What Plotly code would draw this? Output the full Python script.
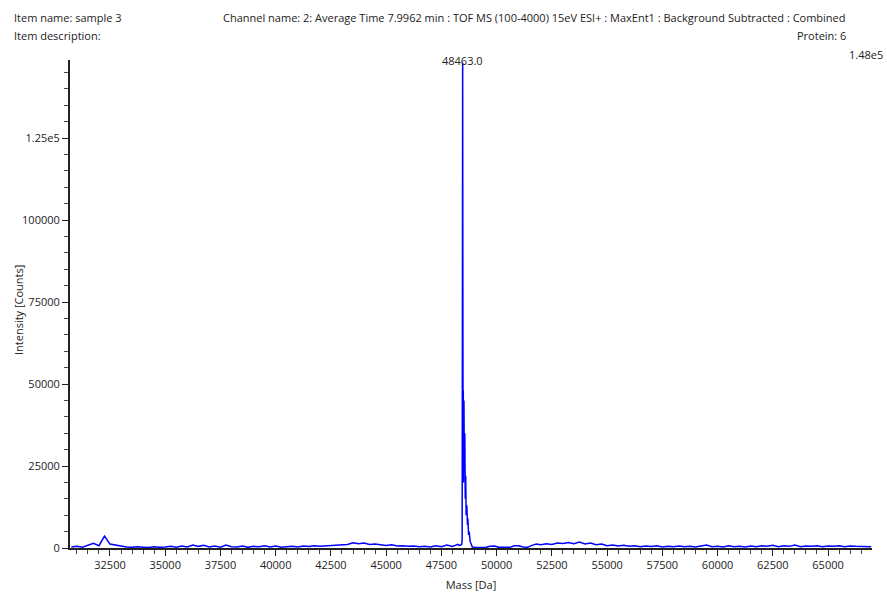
import plotly.graph_objects as go

# ---- data ----
mass_pre = [30750, 31000, 31250, 31500, 31750, 32000, 32250, 32500, 32750, 33000,
            33250, 33500, 33750, 34000, 34250, 34500, 34750, 35000, 35250, 35500,
            35750, 36000, 36250, 36500, 36750, 37000, 37250, 37500, 37750, 38000,
            38250, 38500, 38750, 39000, 39250, 39500, 39750, 40000, 40250, 40500,
            40750, 41000, 41250, 41500, 41750, 42000, 42250, 42500, 42750, 43000,
            43250, 43500, 43750, 44000, 44250, 44500, 44750, 45000, 45250, 45500,
            45750, 46000, 46250, 46500, 46750, 47000, 47250, 47500, 47750, 48000,
            48250]
int_pre = [300, 500, 250, 900, 1400, 700, 3600, 1200, 900, 400,
           300, 200, 350, 250, 150, 400, 200, 300, 500, 250,
           600, 300, 900, 500, 800, 300, 600, 250, 900, 400,
           300, 600, 200, 500, 350, 700, 300, 600, 250, 400,
           500, 300, 600, 450, 700, 500, 600, 800, 700, 900,
           1100, 1600, 1300, 1500, 1100, 1200, 900, 800, 1000, 600,
           700, 500, 600, 400, 500, 300, 700, 400, 900, 500,
           1100]

mass_peak = [48300, 48380, 48420, 48440, 48455, 48463, 48470, 48480, 48490, 48500,
             48520, 48540, 48560, 48580, 48600, 48620, 48650, 48680, 48700, 48730,
             48760, 48800, 48850, 48900, 49000]
int_peak = [800, 900, 1200, 2500, 60000, 148000, 90000, 30000, 48000, 20000,
            45000, 25000, 35000, 15000, 22000, 10000, 13000, 7000, 9000, 4000,
            5000, 2000, 800, 300, 200]

mass_post = [49100, 49250, 49500, 49700, 49900, 50100, 50300, 50600, 50800, 51000,
             51200, 51400, 51600, 51800, 52000, 52250, 52500, 52750, 53000, 53250,
             53500, 53750, 54000, 54250, 54500, 54750, 55000, 55250, 55500, 55750,
             56000, 56250, 56500, 56750, 57000, 57250, 57500, 57750, 58000, 58250,
             58500, 58750, 59000, 59250, 59500, 59750, 60000, 60250, 60500, 60750,
             61000, 61250, 61500, 61750, 62000, 62250, 62500, 62750, 63000, 63250,
             63500, 63750, 64000, 64250, 64500, 64750, 65000, 65250, 65500, 65750,
             66000, 66250, 66500, 66750, 66950]
int_post = [200, 100, 150, 500, 600, 200, 150, 200, 700, 700,
            300, 200, 800, 1200, 1000, 1300, 1100, 1500, 1400, 1700,
            1300, 1800, 1200, 1500, 1000, 1200, 700, 900, 600, 800,
            500, 700, 400, 600, 450, 700, 300, 500, 400, 600,
            350, 500, 300, 600, 900, 400, 500, 300, 700, 400,
            500, 300, 600, 400, 700, 500, 800, 400, 700, 500,
            900, 400, 600, 500, 700, 400, 600, 500, 700, 400,
            600, 500, 400, 500, 400]

x_tickvals = [32500, 35000, 37500, 40000, 42500, 45000, 47500, 50000,
              52500, 55000, 57500, 60000, 62500, 65000]
x_ticktext = [str(v) for v in x_tickvals]
y_tickvals = [0, 25000, 50000, 75000, 100000, 125000]
y_ticktext = ["0", "25000", "50000", "75000", "100000", "1.25e5"]

peak_mass = 48463.0
max_label = "1.48e5"

mass = mass_pre + mass_peak + mass_post
intensity = int_pre + int_peak + int_post

FONT = "Open Sans"
L, R, T, B, W, H = 70, 15, 60, 46, 887, 594
fig = go.Figure()
fig.add_trace(go.Scatter(x=mass, y=intensity, mode="lines",
                         line=dict(color="#0000ff", width=1.5),
                         hoverinfo="skip", showlegend=False))

fig.update_layout(
    width=W, height=H,
    margin=dict(l=L, r=R, t=T, b=B),
    paper_bgcolor="white", plot_bgcolor="white",
    font=dict(family=FONT, size=11, color="#222"),
    xaxis=dict(range=[30690, 66990], tickvals=x_tickvals, ticktext=x_ticktext,
               automargin=False,
               showgrid=False, zeroline=False,
               showline=True, linecolor="#222", linewidth=2,
               ticks="outside", ticklen=6, tickcolor="#222", tickwidth=1,
               minor=dict(ticks="outside", tick0=30000, dtick=500, ticklen=4,
                          tickcolor="#444", tickwidth=1),
               title=dict(text="Mass [Da]", font=dict(size=11), standoff=10)),
    yaxis=dict(range=[0, 148800], tickvals=y_tickvals, ticktext=y_ticktext,
               automargin=False,
               showgrid=False, zeroline=False,
               showline=True, linecolor="#222", linewidth=2,
               ticks="outside", ticklen=6, tickcolor="#222", tickwidth=1,
               minor=dict(ticks="outside", tick0=0, dtick=5000, ticklen=4,
                          tickcolor="#444", tickwidth=1)),
)

def px_x(x):
    return (x - L) / (W - L - R)

def px_y(y):
    return 1 - (y - T) / (H - T - B)

anns = [
    dict(text="Item name: sample 3", x=12, y=18, xanchor="left"),
    dict(text="Item description:", x=12, y=36, xanchor="left"),
    dict(text="Channel name: 2: Average Time 7.9962 min : TOF MS (100-4000) 15eV ESI+ : MaxEnt1 : Background Subtracted : Combined",
         x=848, y=18, xanchor="right"),
    dict(text="Protein: 6", x=848, y=36, xanchor="right"),
    dict(text=max_label, x=885, y=55, xanchor="right"),
]
for a in anns:
    fig.add_annotation(text=a["text"], xref="paper", yref="paper",
                       x=px_x(a["x"]), y=px_y(a["y"]),
                       xanchor=a["xanchor"], yanchor="middle", showarrow=False,
                       font=dict(size=11, color="#222"))
fig.add_annotation(text="Intensity [Counts]", xref="paper", yref="paper",
                   x=px_x(18), y=px_y(310), textangle=-90,
                   xanchor="center", yanchor="middle", showarrow=False,
                   font=dict(size=11, color="#222"))
fig.add_annotation(text=f"{peak_mass:.1f}", x=peak_mass, xref="x",
                   y=px_y(61), yref="paper",
                   xanchor="center", yanchor="middle", showarrow=False,
                   font=dict(size=11, color="#222"))

fig.write_html("out.html")
